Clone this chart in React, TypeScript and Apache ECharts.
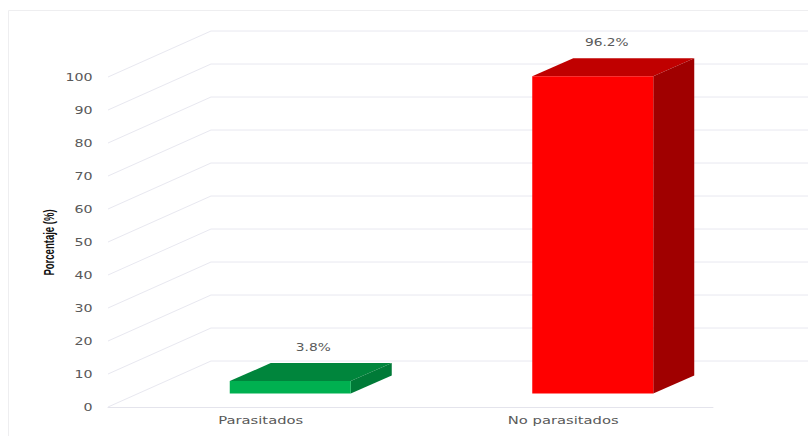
import React, { useEffect, useRef } from "react";
import * as echarts from "echarts";

const categories = ["Parasitados", "No parasitados"];
const percentages = [3.8, 96.2];
const valueLabels = ["3.8%", "96.2%"];
const gridTicks = [0, 10, 20, 30, 40, 50, 60, 70, 80, 90, 100];
const frontColors = ["#00B050", "#FF0000"];
const topColors = ["#00853C", "#C00000"];
const sideColors = ["#007A37", "#A00000"];

// Oblique projection of the plot box: how far the back wall sits from the front plane.
const DEPTH_X = 103;
const DEPTH_Y = -46;
// Bars stand part-way into the floor.
const BAR_INSET_X = 31;
const BAR_INSET_Y = -13.4;
const BAR_DEPTH_X = 41;
const BAR_DEPTH_Y = -18;
const BAR_WIDTH = 121;
const LABEL_LIFT = 34;
const LABEL_SHIFT_X = [23, 14];

const TEXT_FONT = "11px 'DejaVu Sans', sans-serif";
const TEXT_COLOR = "#595959";
// All chart text is set wide, so it is stretched horizontally about its anchor.
const TEXT_STRETCH = 1.29;

const renderGridLine = (params: any, api: any) => {
  const cs = params.coordSys;
  const tick = api.value(0);
  const y = api.coord([0, tick])[1];
  const backY = y + DEPTH_Y;
  return {
    type: "group",
    children: [
      {
        type: "polyline",
        shape: {
          points: [
            [cs.x, y],
            [cs.x + DEPTH_X, backY],
            [830, backY],
          ],
        },
        style: { fill: "none", stroke: "#E8E8F0", lineWidth: 1 },
      },
      {
        type: "text",
        x: cs.x - 15.5,
        y,
        scaleX: TEXT_STRETCH,
        style: {
          text: String(tick),
          fill: TEXT_COLOR,
          font: TEXT_FONT,
          align: "right",
          verticalAlign: "middle",
        },
      },
    ],
  };
};

const renderBar = (params: any, api: any) => {
  const cs = params.coordSys;
  const i = api.value(0);
  const [cx, topRaw] = api.coord([i, api.value(1)]);
  const baseRaw = api.coord([i, 0])[1];
  const x0 = cx - BAR_WIDTH / 2 + BAR_INSET_X;
  const x1 = x0 + BAR_WIDTH;
  const top = topRaw + BAR_INSET_Y;
  const base = baseRaw + BAR_INSET_Y;
  const dx = BAR_DEPTH_X;
  const dy = BAR_DEPTH_Y;
  return {
    type: "group",
    children: [
      {
        type: "polygon",
        shape: { points: [[x0, top], [x1, top], [x1 + dx, top + dy], [x0 + dx, top + dy]] },
        style: { fill: topColors[i] },
      },
      {
        type: "polygon",
        shape: { points: [[x1, top], [x1 + dx, top + dy], [x1 + dx, base + dy], [x1, base]] },
        style: { fill: sideColors[i] },
      },
      {
        type: "rect",
        shape: { x: x0, y: top, width: BAR_WIDTH, height: base - top },
        style: { fill: frontColors[i] },
      },
      {
        type: "text",
        x: (x0 + x1) / 2 + LABEL_SHIFT_X[i],
        y: top - LABEL_LIFT,
        scaleX: 1.25,
        style: {
          text: valueLabels[i],
          fill: TEXT_COLOR,
          font: TEXT_FONT,
          align: "center",
          verticalAlign: "middle",
        },
      },
      {
        type: "text",
        x: cx + 1.5,
        y: cs.y + cs.height + 13.5,
        scaleX: 1.34,
        style: {
          text: categories[i],
          fill: TEXT_COLOR,
          font: TEXT_FONT,
          align: "center",
          verticalAlign: "middle",
        },
      },
    ],
  };
};

export default function App() {
  const ref = useRef<HTMLDivElement>(null);

  useEffect(() => {
    const chart = echarts.init(ref.current!, null, { renderer: "svg" });
    chart.setOption({
      animation: false,
      backgroundColor: "#FFFFFF",
      grid: { left: 108, right: 95, top: 77, bottom: 29, containLabel: false },
      xAxis: {
        type: "category",
        data: categories,
        axisTick: { show: false },
        axisLine: { show: true, lineStyle: { color: "#E4E4EC", width: 1 } },
        axisLabel: { show: false },
      },
      yAxis: {
        type: "value",
        min: 0,
        max: 100,
        interval: 10,
        axisLine: { show: false },
        axisTick: { show: false },
        splitLine: { show: false },
        axisLabel: { show: false },
      },
      series: [
        {
          type: "custom",
          coordinateSystem: "cartesian2d",
          clip: false,
          silent: true,
          z: 1,
          renderItem: renderGridLine,
          encode: { y: 0 },
          data: gridTicks.map((t) => [t]),
        },
        {
          type: "custom",
          coordinateSystem: "cartesian2d",
          clip: false,
          z: 2,
          renderItem: renderBar,
          encode: { x: 0, y: 1 },
          data: percentages.map((v, i) => [i, v]),
        },
      ],
      graphic: [
        // Thin outer frame along the top and left edges.
        { type: "line", shape: { x1: 8.5, y1: 10.5, x2: 808, y2: 10.5 }, style: { stroke: "#EEEEF0", lineWidth: 1 } },
        { type: "line", shape: { x1: 8.5, y1: 10.5, x2: 8.5, y2: 436 }, style: { stroke: "#EEEEF0", lineWidth: 1 } },
        {
          type: "text",
          x: 49,
          y: 242.5,
          rotation: Math.PI / 2,
          scaleX: 0.68,
          style: {
            text: "Porcentaje (%)",
            fill: "#111111",
            font: "bold 14px 'Liberation Sans', sans-serif",
            align: "center",
            verticalAlign: "middle",
          },
        },
      ],
    });
    return () => chart.dispose();
  }, []);

  return <div ref={ref} style={{ position: "fixed", left: 0, top: 0, width: 808, height: 436 }} />;
}
